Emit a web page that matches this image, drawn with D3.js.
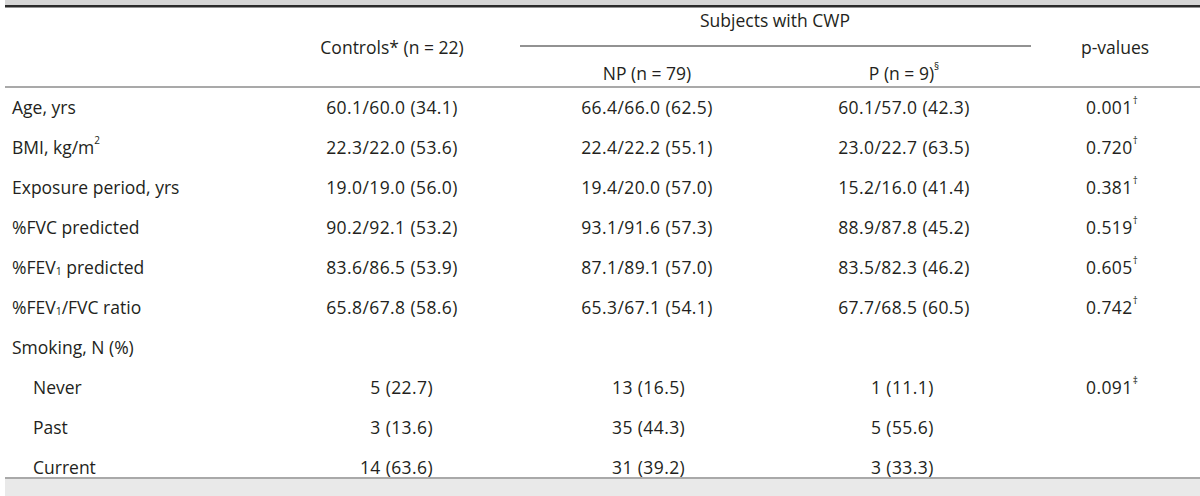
<html>
<head>
    <style>
        body { margin: 0; background: #ffffff; }
        svg { display: block; font-family: "Open Sans", "Noto Sans", sans-serif; }
    </style>
    <script src="https://cdn.jsdelivr.net/npm/d3@7"></script>
</head>
<body>
<svg id="tabla"></svg>
<script>
    // ^x = superíndice, _x = subíndice (un carácter)
    let etiquetas = ["Age, yrs", "BMI, kg/m^2", "Exposure period, yrs", "%FVC predicted",
                     "%FEV_1 predicted", "%FEV_1/FVC ratio", "Smoking, N (%)", "Never", "Past", "Current"];
    let sangria   = [false, false, false, false, false, false, false, true, true, true];

    let controles = ["60.1/60.0 (34.1)", "22.3/22.0 (53.6)", "19.0/19.0 (56.0)", "90.2/92.1 (53.2)",
                     "83.6/86.5 (53.9)", "65.8/67.8 (58.6)", "", "5 (22.7)", "3 (13.6)", "14 (63.6)"];
    let noProg    = ["66.4/66.0 (62.5)", "22.4/22.2 (55.1)", "19.4/20.0 (57.0)", "93.1/91.6 (57.3)",
                     "87.1/89.1 (57.0)", "65.3/67.1 (54.1)", "", "13 (16.5)", "35 (44.3)", "31 (39.2)"];
    let prog      = ["60.1/57.0 (42.3)", "23.0/22.7 (63.5)", "15.2/16.0 (41.4)", "88.9/87.8 (45.2)",
                     "83.5/82.3 (46.2)", "67.7/68.5 (60.5)", "", "1 (11.1)", "5 (55.6)", "3 (33.3)"];
    let pValores  = ["0.001^†", "0.720^†", "0.381^†", "0.519^†", "0.605^†", "0.742^†", "", "0.091^‡", "", ""];

    let cabeceras = {
        grupo: "Subjects with CWP",
        controles: "Controls* (n = 22)",
        noProg: "NP (n = 79)",
        prog: "P (n = 9)^§",
        p: "p-values"
    };

    let ancho = 1200, alto = 496;
    let svg = d3.select("#tabla").attr("width", ancho).attr("height", alto);
    let colorTexto = "#231f20";

    let escalaFila = d3.scalePoint()
        .domain(d3.range(etiquetas.length))
        .range([107, 467]);

    let escalaCol = d3.scaleOrdinal()
        .domain(["controles", "noProg", "prog", "p"])
        .range([392, 647, 904, 1115]);

    // bandas y reglas
    svg.append("rect").attr("x", 5).attr("y", 0).attr("width", ancho - 5).attr("height", 5).attr("fill", "#d6d6d6");
    svg.append("rect").attr("x", 5).attr("y", 5).attr("width", ancho - 5).attr("height", 2.5).attr("fill", "#2b2b2b");
    svg.append("rect").attr("x", 5).attr("y", 479).attr("width", ancho - 5).attr("height", alto - 479).attr("fill", "#e9e9e9");
    svg.append("line").attr("x1", 5).attr("x2", ancho).attr("y1", 87).attr("y2", 87)
        .attr("stroke", "#8c8c8c").attr("stroke-width", 1.5);
    svg.append("line").attr("x1", 5).attr("x2", ancho).attr("y1", 478).attr("y2", 478)
        .attr("stroke", "#8c8c8c").attr("stroke-width", 1.5);
    svg.append("line").attr("x1", 520).attr("x2", 1031).attr("y1", 46).attr("y2", 46)
        .attr("stroke", "#6e6e6e").attr("stroke-width", 1.5);

    function escribir(g, texto) {
        // divide el texto en trozos normales, superíndices y subíndices
        let partes = texto.split(/([\^_].)/).filter(s => s.length);
        partes.forEach(s => {
            if (s[0] === "^") {
                g.append("tspan").attr("font-size", "10px").attr("baseline-shift", "7px").text(s[1]);
            } else if (s[0] === "_") {
                g.append("tspan").attr("font-size", "10.5px").attr("baseline-shift", "-4px").text(s[1]);
            } else {
                g.append("tspan").text(s);
            }
        });
        return g;
    }

    function texto(x, y, t, anchor, numerico) {
        let g = svg.append("text")
            .attr("x", x).attr("y", y)
            .attr("dominant-baseline", "central")
            .attr("text-anchor", anchor || "middle")
            .attr("font-size", "17.5px")
            .attr("letter-spacing", numerico ? "0.4px" : null)
            .attr("fill", colorTexto);
        return escribir(g, t);
    }

    // cabecera
    texto(775, 20, cabeceras.grupo);
    texto(escalaCol("controles"), 47, cabeceras.controles);
    texto(escalaCol("p"), 47, cabeceras.p);
    texto(escalaCol("noProg"), 73, cabeceras.noProg);
    texto(escalaCol("prog"), 73, cabeceras.prog);

    // cuerpo
    etiquetas.forEach((e, i) => {
        let y = escalaFila(i);
        texto(sangria[i] ? 33 : 12, y, e, "start");
        if (sangria[i]) {
            texto(escalaCol("controles") + 41, y, controles[i], "end", true);
            texto(escalaCol("noProg") - 35, y, noProg[i], "start", true);
            texto(escalaCol("prog") - 33, y, prog[i], "start", true);
            if (pValores[i]) texto(escalaCol("p") - 29, y, pValores[i], "start", true);
        } else if (controles[i]) {
            texto(escalaCol("controles"), y, controles[i], "middle", true);
            texto(escalaCol("noProg"), y, noProg[i], "middle", true);
            texto(escalaCol("prog"), y, prog[i], "middle", true);
            texto(escalaCol("p") - 29, y, pValores[i], "start", true);
        }
    });
</script>
</body>
</html>
